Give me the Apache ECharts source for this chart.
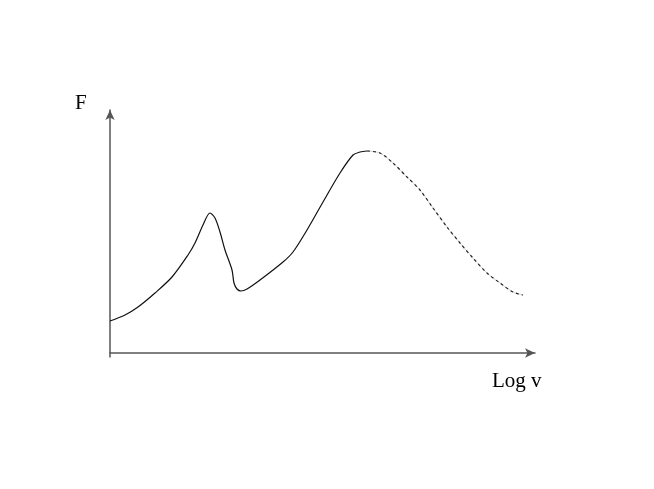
<!DOCTYPE html>
<html>
<head>
<meta charset="utf-8">
<script src="https://cdn.jsdelivr.net/npm/echarts@6/dist/echarts.min.js"></script>
<style>
html,body{margin:0;padding:0;background:#fff;}
#chart{width:654px;height:489px;}
</style>
</head>
<body>
<div id="chart"></div>
<script>
// Values (arbitrary units: x = log v, y = F)
const solidX = [0, 15, 28, 45, 62, 78, 85, 93, 100, 105, 110, 115, 122, 124, 127, 131, 137, 150, 173, 183, 197, 213, 230, 243, 250, 257];
const solidY = [32, 38, 46, 60, 76, 98, 110, 128, 140, 135, 121, 103, 83, 70, 64, 62, 64, 73, 91, 101, 123, 151, 180, 198, 201, 202];
const dashX = [257, 270, 283, 297, 310, 323, 337, 350, 363, 377, 390, 403, 413];
const dashY = [202, 200, 190, 176, 163, 145, 126, 110, 95, 80, 70, 61, 58];
const yAxisName = 'F';
const xAxisName = 'Log v';

const solidData = solidX.map((x, i) => [x, solidY[i]]);
const dashData = dashX.map((x, i) => [x, dashY[i]]);

const chart = echarts.init(document.getElementById('chart'), null, {renderer: 'canvas'});
const axisLine = {
  show: true,
  symbol: ['none', 'arrow'],
  symbolSize: [7, 10],
  lineStyle: {color: '#555', width: 1.5}
};
chart.setOption({
  animation: false,
  backgroundColor: '#fff',
  grid: {left: 110, right: 119, top: 110, bottom: 132},
  xAxis: {
    type: 'value', min: 0, max: 425,
    axisLine: axisLine,
    axisTick: {show: false}, axisLabel: {show: false}, splitLine: {show: false}
  },
  yAxis: {
    type: 'value', min: -4, max: 243,
    axisLine: axisLine,
    axisTick: {show: false}, axisLabel: {show: false}, splitLine: {show: false}
  },
  graphic: [
    {type: 'text', left: 75, top: 93, style: {text: yAxisName, font: '21px "Liberation Serif", serif', fill: '#000'}},
    {type: 'text', left: 492, top: 371, style: {text: xAxisName, font: '21px "Liberation Serif", serif', fill: '#000'}}
  ],
  series: [
    {type: 'line', data: solidData, smooth: 0.3, showSymbol: false, symbol: 'none',
     lineStyle: {color: '#111', width: 1.2}},
    {type: 'line', data: dashData, smooth: 0.3, showSymbol: false, symbol: 'none',
     lineStyle: {color: '#d4d4d4', width: 1}},
    {type: 'line', data: dashData, smooth: 0.3, showSymbol: false, symbol: 'none',
     lineStyle: {color: '#222', width: 1.2, type: [3, 3]}}
  ]
});
</script>
</body>
</html>
